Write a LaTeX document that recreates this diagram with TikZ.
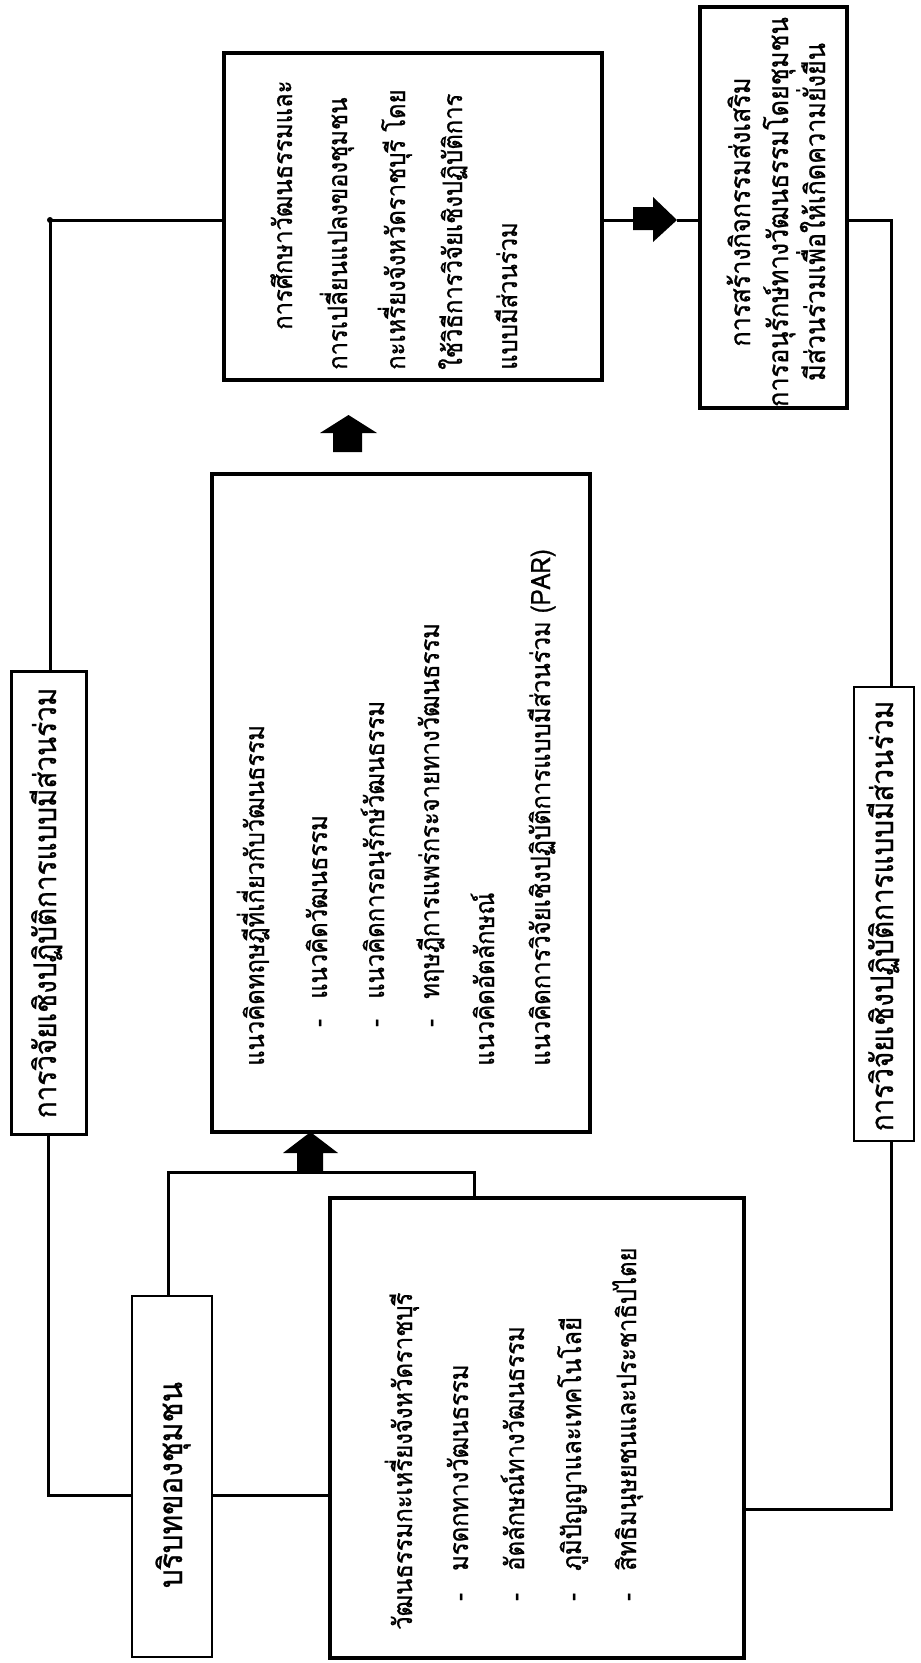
\documentclass[tikz,border=0pt]{standalone}
\usepackage{fontspec}
\newfontfamily\thaifont[Script=Thai, FakeStretch=0.9, FakeBold=0.8]{Loma}
\usetikzlibrary{calc}
\begin{document}
\begin{tikzpicture}[x=1pt,y=-1pt,
  box/.style={draw, line width=#1, inner sep=0pt, fill=white},
  conn/.style={line width=3pt},
  txt/.style={rotate=90, inner sep=0pt, anchor=base west, font=\thaifont\fontsize{26.5}{30}\selectfont},
  ctxt/.style={rotate=90, inner sep=0pt, anchor=base, font=\thaifont\fontsize{28}{32}\selectfont},
  sidetxt/.style={rotate=90, inner sep=0pt, anchor=base, font=\thaifont\fontsize{31}{35}\selectfont},
  bigtxt/.style={rotate=90, inner sep=0pt, anchor=base, font=\thaifont\fontsize{33}{37}\selectfont},
  tip/.style={fill=black}
]
\useasboundingbox[fill=white] (0,0) rectangle (921,1663);

% boxes
\node[box=3.2pt, minimum width=378pt, minimum height=327pt] (TM) at (413,216.5) {};
\node[box=4.5pt, minimum width=147pt, minimum height=401pt] (TR) at (773.5,207.5) {};
\node[box=4.5pt, minimum width=378pt, minimum height=658pt] (M) at (401,803) {};
\node[box=3pt, minimum width=75pt, minimum height=463pt] (L) at (48.5,902.5) {};
\node[box=2.7pt, minimum width=60pt, minimum height=454pt] (R) at (884,914) {};
\node[box=2.7pt, minimum width=80pt, minimum height=361pt] (B) at (172,1476.5) {};
\node[box=4pt, minimum width=414pt, minimum height=460pt] (C) at (537,1428) {};

% connector coordinates
\coordinate (ytop) at (0,220);
\coordinate (lc) at (50,220);
\coordinate (lb) at (48.5,1495);
\coordinate (bt) at (168,1172);
\coordinate (ct) at (474,1172);
\coordinate (rt) at (891,220);
\coordinate (rb) at (891,1509);
\coordinate (ra) at (633,220);
\coordinate (rh) at (677,220);

% connectors
\draw[conn] (TM.west |- ytop) -- (lc) -- (lc |- L.north);
\fill (lc) circle (3pt);
\draw[conn] (L.south) -- (lb) -- (B.west |- lb);
\draw[conn] (B.east |- lb) -- (C.west |- lb);
\draw[conn] (B.north -| bt) -- (bt) -- (ct) -- (ct |- C.north);
\draw[conn] (TM.east |- ytop) -- (ra);
\draw[conn] (rh) -- (TR.west |- ytop);
\draw[conn] (TR.east |- rt) -- (rt) -- (rt |- R.north);
\draw[conn] (rt |- R.south) -- (rb) -- (C.east |- rb);

% block arrows
\fill[tip] (297,1172) -- (297,1153) -- (283,1153) -- (310.5,1132) -- (338,1153) -- (323,1153) -- (323,1172) -- cycle;
\fill[tip] (333,452) -- (333,433) -- (320,433) -- (348.5,415) -- (377,433) -- (362,433) -- (362,452) -- cycle;
\fill[tip] (633,207) -- (653,207) -- (653,197) -- (677,220) -- (653,242) -- (653,230) -- (633,230) -- cycle;

% texts: top-middle box
\node[txt] (tm1) at (292,330) {การศึกษาวัฒนธรรมและ};
\node[txt] (tm2) at (347,370) {การเปลี่ยนแปลงของชุมชน};
\node[txt] (tm3) at (405,370) {กะเหรี่ยงจังหวัดราชบุรี\hspace{8pt}โดย};
\node[txt] (tm4) at (462,370) {ใช้วิธีการวิจัยเชิงปฏิบัติการ};
\node[txt] (tm5) at (517,370) {แบบมีส่วนร่วม};

% top-right box
\node[ctxt] (tr1) at (750,212) {การสร้างกิจกรรมส่งเสริม};
\node[ctxt] (tr2) at (788,212) {การอนุรักษ์ทางวัฒนธรรมโดยชุมชน};
\node[ctxt] (tr3) at (825,212) {มีส่วนร่วมเพื่อให้เกิดความยั่งยืน};

% side boxes
\node[sidetxt] (lt) at (56,903) {การวิจัยเชิงปฏิบัติการแบบมีส่วนร่วม};
\node[sidetxt] (rtx) at (893,916) {การวิจัยเชิงปฏิบัติการแบบมีส่วนร่วม};
\node[bigtxt] (bx) at (182,1485) {บริบทของชุมชน};

% middle box
\node[txt] (m1) at (264,1066) {แนวคิดทฤษฎีที่เกี่ยวกับวัฒนธรรม};
\node[txt] (m2) at (327,1027) {\makebox[28pt][l]{-}แนวคิดวัฒนธรรม};
\node[txt] (m3) at (384,1027) {\makebox[28pt][l]{-}แนวคิดการอนุรักษ์วัฒนธรรม};
\node[txt] (m4) at (439,1027) {\makebox[28pt][l]{-}ทฤษฎีการแพร่กระจายทางวัฒนธรรม};
\node[txt] (m5) at (494,1066) {แนวคิดอัตลักษณ์};
\node[txt] (m6) at (550,1066) {แนวคิดการวิจัยเชิงปฏิบัติการแบบมีส่วนร่วม (PAR)};

% bottom box
\node[txt] (c1) at (412,1630) {วัฒนธรรมกะเหรี่ยงจังหวัดราชบุรี};
\node[txt] (c2) at (468,1601) {\makebox[30pt][l]{-}มรดกทางวัฒนธรรม};
\node[txt] (c3) at (524,1601) {\makebox[30pt][l]{-}อัตลักษณ์ทางวัฒนธรรม};
\node[txt] (c4) at (581,1601) {\makebox[30pt][l]{-}ภูมิปัญญาและเทคโนโลยี};
\node[txt] (c5) at (636,1601) {\makebox[30pt][l]{-}สิทธิมนุษยชนและประชาธิปไตย};
\end{tikzpicture}
\end{document}
